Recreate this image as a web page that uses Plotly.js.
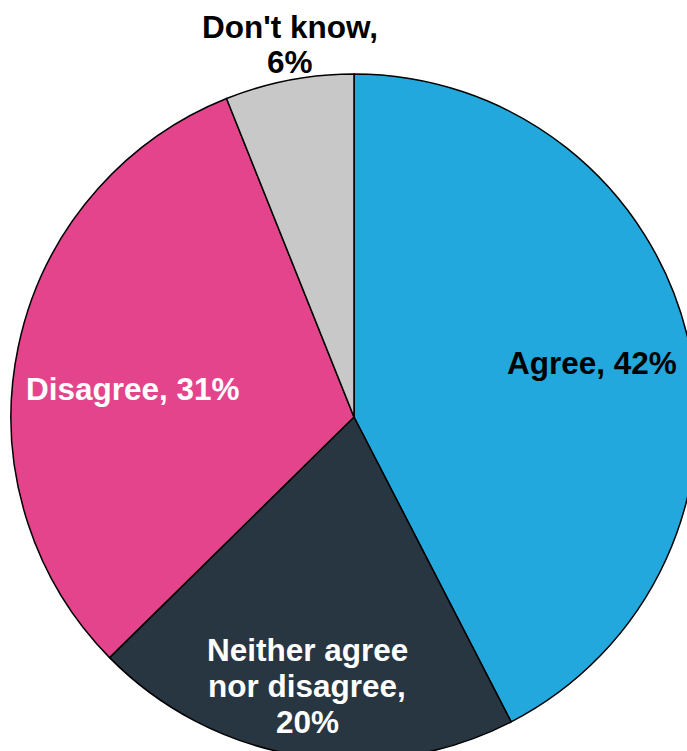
<!DOCTYPE html>
<html>
<head>
<meta charset="utf-8">
<script src="https://cdn.plot.ly/plotly-3.0.1.min.js"></script>
<style>
html,body{margin:0;padding:0;overflow:hidden;background:#fff;width:687px;height:751px;}
#chart{width:708px;height:834px;}
</style>
</head>
<body>
<div id="chart"></div>
<script>
const labels = ["Agree", "Neither agree nor disagree", "Disagree", "Don't know"];
const values = [42, 20, 31, 6];
const colors = ["#22A8DC", "#283642", "#E3448B", "#C8C8C8"];
const labelLines = [["Agree, 42%"], ["Neither agree", "nor disagree,", "20%"], ["Disagree, 31%"], ["Don't know,", "6%"]];
const labelColors = ["#000000", "#ffffff", "#ffffff", "#000000"];

const W = 708, H = 834;
// label block centres in pixels
const labelPos = [[592, 363], [307, 685.5], [133, 389], [290, 44.5]];
const lineGap = 36;

const trace = {
  type: "pie",
  labels: labels,
  values: values,
  sort: false,
  direction: "clockwise",
  rotation: 0,
  marker: {colors: colors, line: {color: "#000000", width: 1.5}},
  textinfo: "none",
  hoverinfo: "skip",
  domain: {x: [11 / W, 697 / W], y: [(H - 760) / H, (H - 74) / H]},
  showlegend: false
};

const annotations = [];
labelLines.forEach((lines, i) => {
  const n = lines.length;
  lines.forEach((t, j) => {
    const py = labelPos[i][1] + (j - (n - 1) / 2) * lineGap;
    annotations.push({
      text: "<b>" + t + "</b>",
      x: labelPos[i][0] / W,
      y: 1 - py / H,
      xref: "paper", yref: "paper",
      xanchor: "center", yanchor: "middle",
      showarrow: false,
      align: "center",
      font: {family: "Liberation Sans, Arial, sans-serif", size: 31.5, color: labelColors[i]}
    });
  });
});

Plotly.newPlot("chart", [trace], {
  width: W, height: H,
  margin: {l: 0, r: 0, t: 0, b: 0},
  paper_bgcolor: "#ffffff",
  annotations: annotations
}, {displayModeBar: false, staticPlot: true});
</script>
</body>
</html>
